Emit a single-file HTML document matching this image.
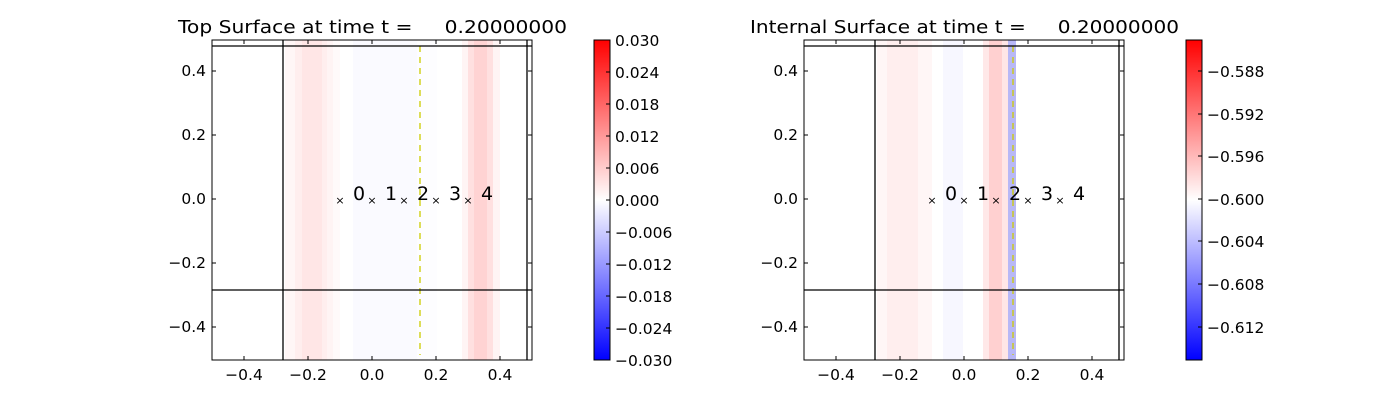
<!DOCTYPE html>
<html><head><meta charset="utf-8"><style>body{margin:0;background:#fff}svg{display:block}text{font-family:"DejaVu Sans","Liberation Sans",sans-serif;fill:#000}</style></head><body>
<svg width="1400" height="400" xmlns="http://www.w3.org/2000/svg">
<defs>
<linearGradient id="bwr" x1="0" y1="1" x2="0" y2="0">
<stop offset="0" stop-color="#0000ff"/><stop offset="0.5" stop-color="#ffffff"/><stop offset="1" stop-color="#ff0000"/>
</linearGradient>
</defs>
<!-- LEFT PLOT -->
<g>
<rect x="285" y="40" width="10" height="320" fill="#fff6f6"/>
<rect x="295" y="40" width="7" height="320" fill="#ffeeee"/>
<rect x="302" y="40" width="20" height="320" fill="#ffe6e6"/>
<rect x="322" y="40" width="5" height="320" fill="#ffeeee"/>
<rect x="327" y="40" width="6" height="320" fill="#fff4f4"/>
<rect x="333" y="40" width="7" height="320" fill="#fffafa"/>
<rect x="353" y="40" width="64" height="320" fill="#fafaff"/>
<rect x="417" y="40" width="20" height="320" fill="#fdfdff"/>
<rect x="462" y="40" width="6" height="320" fill="#fff4f4"/>
<rect x="468" y="40" width="6" height="320" fill="#ffe0e0"/>
<rect x="474" y="40" width="13" height="320" fill="#ffd3d3"/>
<rect x="487" y="40" width="6" height="320" fill="#ffe0e0"/>
<rect x="493" y="40" width="7" height="320" fill="#fff4f4"/>
<line x1="420" y1="46" x2="420" y2="355" stroke="#cccc00" stroke-width="1.3" stroke-dasharray="6,5"/>
<g stroke="#000" stroke-width="1.3">
<line x1="212" y1="46" x2="532" y2="46"/>
<line x1="212" y1="290" x2="532" y2="290"/>
<line x1="283" y1="40" x2="283" y2="360"/>
<line x1="527" y1="40" x2="527" y2="360"/>
</g>
<rect x="212" y="40" width="320" height="320" fill="none" stroke="#000" stroke-width="1"/>
<g stroke="#000" stroke-width="1">
<path d="M244,360v-4M308,360v-4M372,360v-4M436,360v-4M500,360v-4M244,40v4M308,40v4M372,40v4M436,40v4M500,40v4"/>
<path d="M212,71h4M212,135h4M212,199h4M212,263h4M212,327h4M532,71h-4M532,135h-4M532,199h-4M532,263h-4M532,327h-4"/>
</g>
<g font-size="15.5" text-anchor="end">
<text x="206" y="76">0.4</text><text x="206" y="140">0.2</text><text x="206" y="204">0.0</text><text x="206" y="268">−0.2</text><text x="206" y="332">−0.4</text>
</g>
<g font-size="15.5" text-anchor="middle">
<text x="244" y="380">−0.4</text><text x="308" y="380">−0.2</text><text x="372" y="380">0.0</text><text x="436" y="380">0.2</text><text x="500" y="380">0.4</text>
</g>
<g font-size="11" text-anchor="middle"><text x="340" y="204">×</text><text x="372" y="204">×</text><text x="404" y="204">×</text><text x="436" y="204">×</text><text x="468" y="204">×</text></g>
<g font-size="19"><text x="353" y="200">0</text><text x="385" y="200">1</text><text x="417" y="200">2</text><text x="449" y="200">3</text><text x="481" y="200">4</text></g>
<text x="178" y="33" font-size="18" textLength="389" lengthAdjust="spacingAndGlyphs" xml:space="preserve">Top Surface at time t =     0.20000000</text>
<rect x="594" y="40" width="16" height="320" fill="url(#bwr)" stroke="#000" stroke-width="1"/>
<g stroke="#000"><path d="M610,40h-4M610,72h-4M610,104h-4M610,136h-4M610,168h-4M610,200h-4M610,232h-4M610,264h-4M610,296h-4M610,328h-4M610,360h-4"/></g>
<g font-size="15.5">
<text x="615" y="46">0.030</text><text x="615" y="78">0.024</text><text x="615" y="110">0.018</text><text x="615" y="142">0.012</text><text x="615" y="174">0.006</text><text x="615" y="206">0.000</text><text x="615" y="238">−0.006</text><text x="615" y="270">−0.012</text><text x="615" y="302">−0.018</text><text x="615" y="334">−0.024</text><text x="615" y="366">−0.030</text>
</g>
</g>
<!-- RIGHT PLOT -->
<g>
<rect x="877" y="40" width="10" height="320" fill="#fff6f6"/>
<rect x="887" y="40" width="31" height="320" fill="#ffeeee"/>
<rect x="918" y="40" width="14" height="320" fill="#fff6f6"/>
<rect x="943" y="40" width="20" height="320" fill="#f7f7ff"/>
<rect x="983" y="40" width="6" height="320" fill="#ffe8e8"/>
<rect x="989" y="40" width="13" height="320" fill="#ffd0d0"/>
<rect x="1002" y="40" width="6" height="320" fill="#ffe6e6"/>
<rect x="1008" y="40" width="8" height="320" fill="#b8b8f6"/>
<line x1="1013" y1="46" x2="1013" y2="355" stroke="#cccc00" stroke-width="1.3" stroke-dasharray="6,5"/>
<g stroke="#000" stroke-width="1.3">
<line x1="804" y1="46" x2="1124" y2="46"/>
<line x1="804" y1="290" x2="1124" y2="290"/>
<line x1="875" y1="40" x2="875" y2="360"/>
<line x1="1119" y1="40" x2="1119" y2="360"/>
</g>
<rect x="804" y="40" width="320" height="320" fill="none" stroke="#000" stroke-width="1"/>
<g stroke="#000" stroke-width="1">
<path d="M836,360v-4M900,360v-4M964,360v-4M1028,360v-4M1092,360v-4M836,40v4M900,40v4M964,40v4M1028,40v4M1092,40v4"/>
<path d="M804,71h4M804,135h4M804,199h4M804,263h4M804,327h4M1124,71h-4M1124,135h-4M1124,199h-4M1124,263h-4M1124,327h-4"/>
</g>
<g font-size="15.5" text-anchor="end">
<text x="798" y="76">0.4</text><text x="798" y="140">0.2</text><text x="798" y="204">0.0</text><text x="798" y="268">−0.2</text><text x="798" y="332">−0.4</text>
</g>
<g font-size="15.5" text-anchor="middle">
<text x="836" y="380">−0.4</text><text x="900" y="380">−0.2</text><text x="964" y="380">0.0</text><text x="1028" y="380">0.2</text><text x="1092" y="380">0.4</text>
</g>
<g font-size="11" text-anchor="middle"><text x="932" y="204">×</text><text x="964" y="204">×</text><text x="996" y="204">×</text><text x="1028" y="204">×</text><text x="1060" y="204">×</text></g>
<g font-size="19"><text x="945" y="200">0</text><text x="977" y="200">1</text><text x="1009" y="200">2</text><text x="1041" y="200">3</text><text x="1073" y="200">4</text></g>
<text x="750" y="33" font-size="18" textLength="429" lengthAdjust="spacingAndGlyphs" xml:space="preserve">Internal Surface at time t =     0.20000000</text>
<rect x="1186" y="40" width="16" height="320" fill="url(#bwr)" stroke="#000" stroke-width="1"/>
<g stroke="#000"><path d="M1202,71h-4M1202,114h-4M1202,156h-4M1202,199h-4M1202,241h-4M1202,284h-4M1202,327h-4"/></g>
<g font-size="15.5">
<text x="1207" y="77">−0.588</text><text x="1207" y="120">−0.592</text><text x="1207" y="162">−0.596</text><text x="1207" y="205">−0.600</text><text x="1207" y="247">−0.604</text><text x="1207" y="290">−0.608</text><text x="1207" y="333">−0.612</text>
</g>
</g>
</svg>
</body></html>
